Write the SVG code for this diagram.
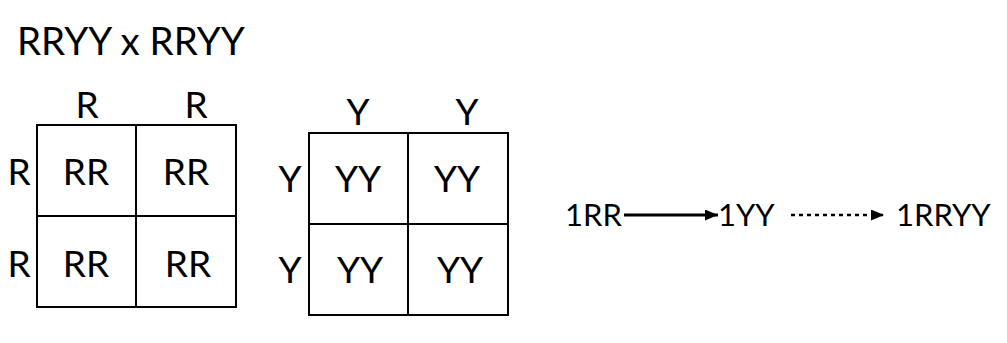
<svg xmlns="http://www.w3.org/2000/svg" width="1007" height="343" viewBox="0 0 1007 343">
<defs>
<style>
text{font-family:Lato,"Open Sans","DejaVu Sans",sans-serif;fill:#000}
.t{font-size:38.5px}
.c{font-size:37px;text-anchor:middle}
.s{font-size:31px}
.g{fill:#fff;stroke:#000;stroke-width:2}
.ln{stroke:#000;stroke-width:2;fill:none}
.solid{stroke:#000;stroke-width:3;fill:none}
.dash{stroke:#000;stroke-width:2.5;stroke-dasharray:4 4;fill:none}
</style>
<marker id="ah" viewBox="0 0 13 11" refX="13" refY="5.5" markerWidth="13" markerHeight="11" markerUnits="userSpaceOnUse" orient="auto"><path d="M0,0L13,5.5L0,11z" fill="#000"/></marker>
</defs>
<rect width="1007" height="343" fill="#fff"/>
<text id="title" class="t" x="17" y="55">RRYY x RRYY</text>
<g id="grid1">
<rect class="g" x="37" y="125" width="199" height="182"/>
<line class="ln" x1="136" y1="125" x2="136" y2="307"/>
<line class="ln" x1="37" y1="216" x2="236" y2="216"/>
<text class="c" x="87" y="118">R</text>
<text class="c" x="196" y="118">R</text>
<text class="c" x="19" y="185">R</text>
<text class="c" x="19" y="277">R</text>
<text class="c" x="86" y="185">RR</text>
<text class="c" x="186" y="185">RR</text>
<text class="c" x="86" y="277">RR</text>
<text class="c" x="188" y="277">RR</text>
</g>
<g id="grid2">
<rect class="g" x="309" y="133" width="199" height="182"/>
<line class="ln" x1="408" y1="133" x2="408" y2="315"/>
<line class="ln" x1="309" y1="224" x2="508" y2="224"/>
<text class="c" x="358" y="125">Y</text>
<text class="c" x="467" y="125">Y</text>
<text class="c" x="290" y="192">Y</text>
<text class="c" x="290" y="283">Y</text>
<text class="c" x="358" y="192">YY</text>
<text class="c" x="457" y="192">YY</text>
<text class="c" x="360" y="283">YY</text>
<text class="c" x="460" y="283">YY</text>
</g>
<g id="n1"><text class="s" x="565" y="226">1RR</text></g>
<g id="n2"><text class="s" x="718" y="226">1YY</text></g>
<g id="n3"><text class="s" x="896" y="226">1RRYY</text></g>
<g id="connectors">
<line class="solid" x1="624" y1="215" x2="718" y2="215" marker-end="url(#ah)"/>
<line class="dash" x1="791" y1="215" x2="884" y2="215" marker-end="url(#ah)"/>
</g>
</svg>
